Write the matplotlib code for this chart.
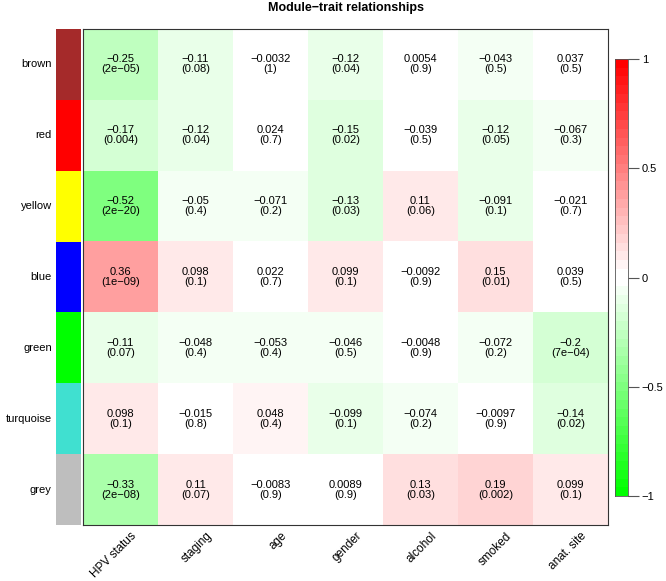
import numpy as np
import matplotlib
matplotlib.use('Agg')
import matplotlib.pyplot as plt
from matplotlib.colors import ListedColormap

plt.rcParams['font.family'] = ['Liberation Sans', 'DejaVu Sans']

# module eigengenes (rows) and traits (columns)
modules = ['brown', 'red', 'yellow', 'blue', 'green', 'turquoise', 'grey']
module_colors = ['#A52A2A', '#FF0000', '#FFFF00', '#0000FF', '#00FF00', '#40E0D0', '#BEBEBE']
traits = ['HPV status', 'staging', 'age', 'gender', 'alcohol', 'smoked', 'anat. site']

cor = [
    [-0.25, -0.11, -0.0032, -0.12, 0.0054, -0.043, 0.037],
    [-0.17, -0.12, 0.024, -0.15, -0.039, -0.12, -0.067],
    [-0.52, -0.05, -0.071, -0.13, 0.11, -0.091, -0.021],
    [0.36, 0.098, 0.022, 0.099, -0.0092, 0.15, 0.039],
    [-0.11, -0.048, -0.053, -0.046, -0.0048, -0.072, -0.2],
    [0.098, -0.015, 0.048, -0.099, -0.074, -0.0097, -0.14],
    [-0.33, 0.11, -0.0083, 0.0089, 0.13, 0.19, 0.099],
]
pval = [
    ['2e-05', '0.08', '1', '0.04', '0.9', '0.5', '0.5'],
    ['0.004', '0.04', '0.7', '0.02', '0.5', '0.05', '0.3'],
    ['2e-20', '0.4', '0.2', '0.03', '0.06', '0.1', '0.7'],
    ['1e-09', '0.1', '0.7', '0.1', '0.9', '0.01', '0.5'],
    ['0.07', '0.4', '0.4', '0.5', '0.9', '0.2', '7e-04'],
    ['0.1', '0.8', '0.4', '0.1', '0.2', '0.9', '0.02'],
    ['2e-08', '0.07', '0.9', '0.9', '0.03', '0.002', '0.1'],
]
cbar_ticks = [-1, -0.5, 0, 0.5, 1]

W, H = 666, 581
def box(x0, y0, x1, y1):
    # pixel box (top-left origin) -> figure fraction
    return [x0 / W, 1 - y1 / H, (x1 - x0) / W, (y1 - y0) / H]

def green_white_red(n=50):
    # stepped palette, white in the two middle bins
    half = n // 2
    up = np.linspace(0, 1, half)
    down = np.linspace(1, 0, half)
    red = np.concatenate([up, np.ones(half)])
    green = np.concatenate([np.ones(half), down])
    blue = np.concatenate([up, down])
    return ListedColormap(np.column_stack([red, green, blue]))

cmap = green_white_red(50)
fs = 8

fig = plt.figure(figsize=(W / 100, H / 100), dpi=100)

# heatmap
ax = fig.add_axes(box(83, 29, 608, 525))
data = np.array(cor)
ax.imshow(data, cmap=cmap, vmin=-1, vmax=1, aspect='auto', interpolation='nearest')
for i in range(len(modules)):
    for j in range(len(traits)):
        txt = '%s\n(%s)' % (str(cor[i][j]), pval[i][j])
        ax.text(j, i, txt.replace('-', '\u2212'), ha='center', va='center',
                fontsize=fs, linespacing=1.0)
ax.set_xticks([])
ax.set_yticks([])
for s in ax.spines.values():
    s.set_linewidth(0.8)
    s.set_color('#333333')
ax.set_title('Module\u2212trait relationships', fontsize=9, fontweight='bold', pad=0,
             y=1.0 + 18 / 496)

# x labels, rotated
for j, t in enumerate(traits):
    ax.annotate(t, xy=(j, len(modules) - 0.5), xycoords='data',
                xytext=(10, -5), textcoords='offset pixels',
                rotation=45, ha='right', va='top', rotation_mode='anchor',
                fontsize=8.5, annotation_clip=False)

# module colour strip
ax2 = fig.add_axes(box(56, 29, 80.5, 525))
for i, c in enumerate(module_colors):
    ax2.axhspan(i, i + 1, color=c, lw=0)
ax2.set_ylim(len(modules), 0)
ax2.set_xlim(0, 1)
ax2.axis('off')
for i, m in enumerate(modules):
    ax2.text(-0.17, i + 0.5, m, ha='right', va='center', fontsize=fs,
             transform=ax2.transData)

# colour bar
ax3 = fig.add_axes(box(615, 59, 628, 496))
grad = np.linspace(1, -1, 200).reshape(-1, 1)
ax3.imshow(grad, cmap=cmap, vmin=-1, vmax=1, aspect='auto', extent=[0, 1, -1, 1],
           interpolation='nearest')
ax3.set_xticks([])
ax3.yaxis.tick_right()
ax3.set_yticks(cbar_ticks)
ax3.set_yticklabels([('%g' % v).replace('-', '\u2212') for v in cbar_ticks], fontsize=fs)
ax3.tick_params(axis='y', length=8, width=0.8, pad=2, color='#555555')
for s in ax3.spines.values():
    s.set_linewidth(0.6)
    s.set_color('#555555')

fig.savefig('out.png', dpi=100)
